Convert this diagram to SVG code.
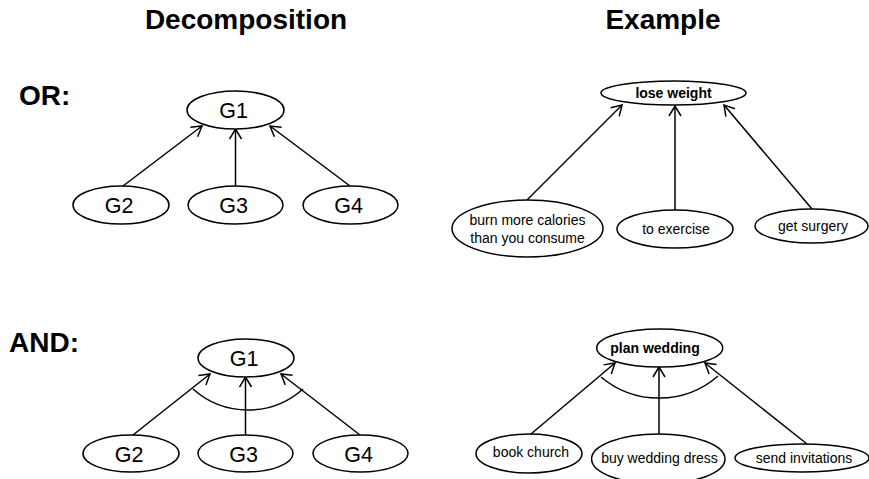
<svg xmlns="http://www.w3.org/2000/svg" width="869" height="479" viewBox="0 0 869 479">
  <style>
    .title { font-family: "Liberation Sans", Arial, sans-serif; font-weight: bold; font-size: 28px; fill: #000; }
    .node ellipse { fill: #fff; stroke: #000; stroke-width: 1.5; }
    .g { font-family: "Liberation Sans", Arial, sans-serif; font-size: 21.5px; fill: #000; text-anchor: middle; }
    .t { font-family: "Liberation Sans", Arial, sans-serif; font-size: 14px; fill: #000; text-anchor: middle; }
    .b { font-weight: bold; }
    #connectors line, #connectors path { stroke: #000; stroke-width: 1.5; fill: none; }
    #connectors line { marker-end: url(#open); }
  </style>
  <defs>
    <marker id="open" markerUnits="userSpaceOnUse" markerWidth="14" markerHeight="16" refX="11" refY="7" orient="auto">
      <path d="M1,1 L11,7 L1,13" fill="none" stroke="#000" stroke-width="1.5"/>
    </marker>
  </defs>
  <rect width="869" height="479" fill="#fff"/>

  <!-- headings -->
  <text class="title" x="246" y="29" text-anchor="middle">Decomposition</text>
  <text class="title" x="663" y="29" text-anchor="middle">Example</text>
  <text class="title" x="19" y="105">OR:</text>
  <text class="title" x="9" y="352">AND:</text>

  <!-- connectors -->
  <g id="connectors">
    <!-- OR decomposition -->
    <line x1="123" y1="186" x2="202" y2="126"/>
    <line x1="235.5" y1="186" x2="235.5" y2="129"/>
    <line x1="350" y1="186" x2="270" y2="126"/>
    <!-- OR example -->
    <line x1="527" y1="200" x2="622" y2="105"/>
    <line x1="675" y1="210" x2="675" y2="106"/>
    <line x1="812" y1="209" x2="724" y2="105"/>
    <!-- AND decomposition -->
    <line x1="133" y1="435" x2="210" y2="374"/>
    <line x1="245.5" y1="435" x2="245.5" y2="377"/>
    <line x1="360" y1="435" x2="281" y2="374"/>
    <path d="M193,389 A82.5,82.5 0 0 0 303,389"/>
    <!-- AND example -->
    <line x1="531" y1="434" x2="615" y2="363"/>
    <line x1="659" y1="434" x2="659" y2="367"/>
    <line x1="807" y1="444" x2="705" y2="363"/>
    <path d="M601,377 A90,90 0 0 0 718,376"/>
  </g>

  <!-- OR decomposition nodes -->
  <g id="or-g1" class="node"><ellipse cx="235.5" cy="110" rx="48.5" ry="19"/><text class="g" x="233.5" y="118">G1</text></g>
  <g id="or-g2" class="node"><ellipse cx="121" cy="205" rx="48" ry="19"/><text class="g" x="119" y="213">G2</text></g>
  <g id="or-g3" class="node"><ellipse cx="235.5" cy="205" rx="47.5" ry="19"/><text class="g" x="233.5" y="213">G3</text></g>
  <g id="or-g4" class="node"><ellipse cx="350.5" cy="205" rx="47.5" ry="19"/><text class="g" x="348.5" y="213">G4</text></g>

  <!-- OR example nodes -->
  <g id="lose-weight" class="node"><ellipse cx="673.5" cy="93" rx="72.5" ry="12"/><text class="t b" x="673.5" y="97.5">lose weight</text></g>
  <g id="burn-calories" class="node"><ellipse cx="527.5" cy="228.5" rx="75.5" ry="28.5"/><text class="t" x="527.5" y="225">burn more calories</text><text class="t" x="527.5" y="243">than you consume</text></g>
  <g id="to-exercise" class="node"><ellipse cx="675" cy="229" rx="58" ry="19"/><text class="t" x="676" y="234">to exercise</text></g>
  <g id="get-surgery" class="node"><ellipse cx="811.5" cy="226" rx="56.5" ry="17"/><text class="t" x="813" y="231">get surgery</text></g>

  <!-- AND decomposition nodes -->
  <g id="and-g1" class="node"><ellipse cx="246" cy="358" rx="48" ry="19"/><text class="g" x="244" y="366">G1</text></g>
  <g id="and-g2" class="node"><ellipse cx="131" cy="453.5" rx="48" ry="18.5"/><text class="g" x="129" y="462">G2</text></g>
  <g id="and-g3" class="node"><ellipse cx="245.5" cy="453.5" rx="47.5" ry="18.5"/><text class="g" x="243.5" y="462">G3</text></g>
  <g id="and-g4" class="node"><ellipse cx="360.5" cy="453.5" rx="47.5" ry="18.5"/><text class="g" x="358.5" y="462">G4</text></g>

  <!-- AND example nodes -->
  <g id="plan-wedding" class="node"><ellipse cx="659.7" cy="348" rx="63" ry="19"/><text class="t b" x="655" y="353">plan wedding</text></g>
  <g id="book-church" class="node"><ellipse cx="529" cy="453.5" rx="53" ry="19.5"/><text class="t" x="531" y="457">book church</text></g>
  <g id="buy-dress" class="node"><ellipse cx="658.3" cy="459" rx="66.7" ry="25"/><text class="t" x="659.5" y="463">buy wedding dress</text></g>
  <g id="send-invitations" class="node"><ellipse cx="802" cy="458" rx="67" ry="14"/><text class="t" x="804" y="463">send invitations</text></g>
</svg>
